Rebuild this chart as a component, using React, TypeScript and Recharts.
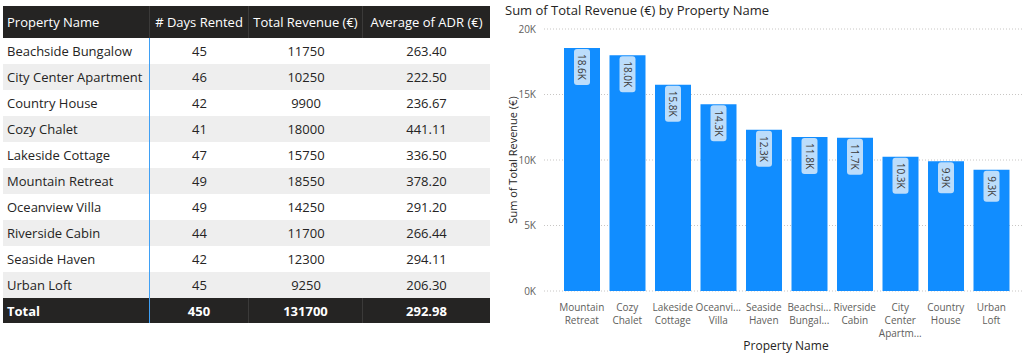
import React from "react";
import { BarChart, Bar, XAxis, YAxis, CartesianGrid, LabelList, Label } from "recharts";

const names = [
  "Beachside Bungalow",
  "City Center Apartment",
  "Country House",
  "Cozy Chalet",
  "Lakeside Cottage",
  "Mountain Retreat",
  "Oceanview Villa",
  "Riverside Cabin",
  "Seaside Haven",
  "Urban Loft",
];
const daysRented = [45, 46, 42, 41, 47, 49, 49, 44, 42, 45];
const revenue = [11750, 10250, 9900, 18000, 15750, 18550, 14250, 11700, 12300, 9250];
const adr = ["263.40", "222.50", "236.67", "441.11", "336.50", "378.20", "291.20", "266.44", "294.11", "206.30"];
const totals = { days: "450", revenue: "131700", adr: "292.98" };
const tickLabels = [
  ["Beachsi...", "Bungal..."],
  ["City", "Center", "Apartm..."],
  ["Country", "House"],
  ["Cozy", "Chalet"],
  ["Lakeside", "Cottage"],
  ["Mountain", "Retreat"],
  ["Oceanvi...", "Villa"],
  ["Riverside", "Cabin"],
  ["Seaside", "Haven"],
  ["Urban", "Loft"],
];
const yTicks = [0, 5000, 10000, 15000, 20000];

const FONT = "'Segoe UI', 'Open Sans', sans-serif";
const BLUE = "#118DFF";
const LINE_BLUE = "#3FA0F5";

const chartData = names
  .map((name, i) => ({ name, revenue: revenue[i], lines: tickLabels[i] }))
  .sort((a, b) => b.revenue - a.revenue);

const fmtK = (v: number) => (Math.round(v / 100) / 10).toFixed(1) + "K";

const colWidths = [147, 99, 114, 127];

function Cell({ children, w, align, color, bold, border }: any) {
  return (
    <div
      style={{
        width: w,
        boxSizing: "border-box",
        textAlign: align,
        paddingLeft: align === "left" ? 4 : 0,
        color,
        fontWeight: bold ? 700 : 400,
        borderRight: border,
        whiteSpace: "nowrap",
        overflow: "hidden",
        display: "flex",
        alignItems: "center",
        justifyContent: align === "left" ? "flex-start" : "center",
      }}
    >
      {children}
    </div>
  );
}

function Table() {
  const header = ["Property Name", "# Days Rented", "Total Revenue (€)", "Average of ADR (€)"];
  return (
    <div style={{ position: "absolute", left: 3, top: 6, width: 487, fontFamily: FONT, fontSize: 13 }}>
      <div style={{ display: "flex", height: 32, background: "#252423" }}>
        {header.map((h, i) => (
          <Cell key={h} w={colWidths[i]} align={i === 0 ? "left" : "center"} color="#fff" border={i < 3 ? "1px solid #3b3a39" : undefined}>
            {h}
          </Cell>
        ))}
      </div>
      {names.map((n, r) => (
        <div key={n} style={{ display: "flex", height: 26, background: r % 2 ? "#EEEEEE" : "#fff" }}>
          <Cell w={colWidths[0]} align="left" color="#252423" border={`1px solid ${LINE_BLUE}`}>{n}</Cell>
          <Cell w={colWidths[1]} align="center" color="#252423">{daysRented[r]}</Cell>
          <Cell w={colWidths[2]} align="center" color="#252423">{revenue[r]}</Cell>
          <Cell w={colWidths[3]} align="center" color="#252423">{adr[r]}</Cell>
        </div>
      ))}
      <div style={{ display: "flex", height: 25, background: "#252423" }}>
        <Cell w={colWidths[0]} align="left" color="#fff" bold border={`1px solid ${LINE_BLUE}`}>Total</Cell>
        <Cell w={colWidths[1]} align="center" color="#fff" bold border="1px solid #3b3a39">{totals.days}</Cell>
        <Cell w={colWidths[2]} align="center" color="#fff" bold border="1px solid #3b3a39">{totals.revenue}</Cell>
        <Cell w={colWidths[3]} align="center" color="#fff" bold>{totals.adr}</Cell>
      </div>
    </div>
  );
}

function NameTick({ x, y, payload, index }: any) {
  const lines: string[] = chartData[index] ? chartData[index].lines : [payload.value];
  return (
    <text x={x} y={y} textAnchor="middle" fill="#605E5C" fontSize={10} fontFamily={FONT}>
      {lines.map((l, i) => (
        <tspan key={i} x={x} dy={i === 0 ? 12 : 13}>{l}</tspan>
      ))}
    </text>
  );
}

function ValueBadge({ x, y, width, value }: any) {
  const label = fmtK(value);
  const h = 11 + label.length * 5;
  const cx = x + width / 2;
  const top = y + 1;
  return (
    <g>
      <rect x={cx - 8} y={top} width={16} height={h} rx={3} fill="#BCDDFB" />
      <text
        x={cx}
        y={top + h / 2}
        transform={`rotate(90 ${cx} ${top + h / 2})`}
        textAnchor="middle"
        dominantBaseline="central"
        fontSize={10}
        fontFamily={FONT}
        fill="#3B3A39"
      >
        {label}
      </text>
    </g>
  );
}

function YTitle({ viewBox }: any) {
  const x = viewBox.x + 12;
  const y = viewBox.y + viewBox.height / 2;
  return (
    <text x={x} y={y} transform={`rotate(-90 ${x} ${y})`} textAnchor="middle" dominantBaseline="central" fontSize={11} fontFamily={FONT} fill="#252423">
      Sum of Total Revenue (€)
    </text>
  );
}

export default function App() {
  return (
    <div style={{ position: "absolute", left: 0, top: 0, width: 1024, height: 358, background: "#fff", overflow: "hidden" }}>
      <Table />
      <div style={{ position: "absolute", left: 505, top: 1, fontFamily: FONT, fontSize: 13, color: "#252423", whiteSpace: "nowrap" }}>
        Sum of Total Revenue (€) by Property Name
      </div>
      <div style={{ position: "absolute", left: 500, top: 0 }}>
        <BarChart width={524} height={358} data={chartData} margin={{ top: 29, right: 2, bottom: 0, left: 0 }}>
          <CartesianGrid vertical={false} stroke="#C8C6C4" strokeDasharray="1 2" />
          <XAxis
            dataKey="name"
            interval={0}
            height={67}
            padding={{ left: 15, right: 8 }}
            axisLine={false}
            tickLine={false}
            tick={<NameTick />}
          >
            <Label value="Property Name" position="insideBottom" offset={8} dx={3} fill="#252423" fontSize={12} fontFamily={FONT} />
          </XAxis>
          <YAxis
            width={44}
            domain={[0, 20000]}
            ticks={yTicks}
            axisLine={false}
            tickLine={false}
            tickFormatter={(v: number) => `${v / 1000}K`}
            tick={{ fill: "#605E5C", fontSize: 10, fontFamily: FONT }}
          >
            <Label content={<YTitle />} />
          </YAxis>
          <Bar dataKey="revenue" fill={BLUE} barSize={36} isAnimationActive={false}>
            <LabelList dataKey="revenue" content={<ValueBadge />} />
          </Bar>
        </BarChart>
      </div>
    </div>
  );
}
